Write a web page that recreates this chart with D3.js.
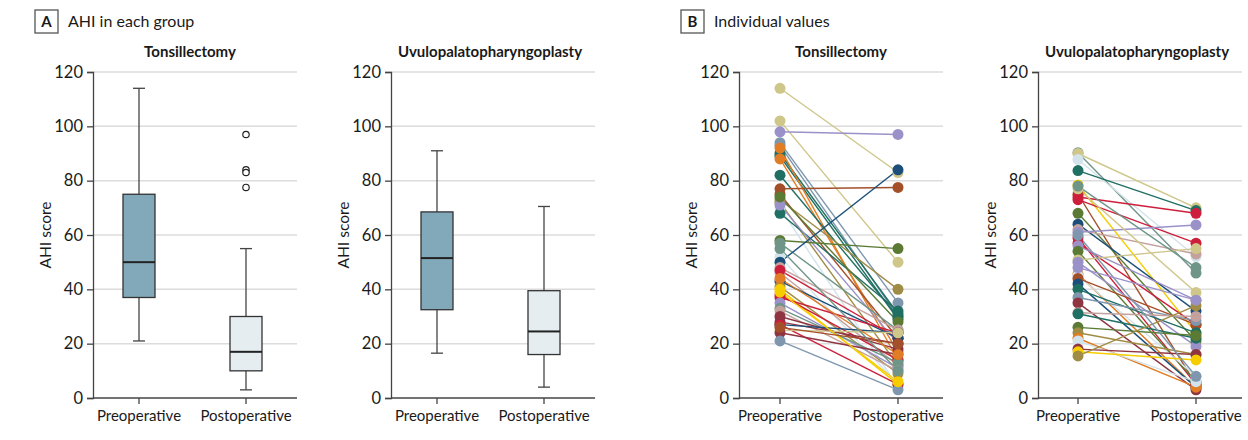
<!DOCTYPE html>
<html>
<head>
<meta charset="utf-8">
<script src="https://cdn.jsdelivr.net/npm/d3@7"></script>
<style>
  body { margin: 0; background: #fff; }
  svg text { font-family: Lato, "Open Sans", sans-serif; fill: #1a1a1a; }
</style>
</head>
<body>
<svg id="chart" width="1248" height="440"></svg>
<script>
// categories and ticks
var phases = ["Preoperative", "Postoperative"];
var yTicks = [0, 20, 40, 60, 80, 100, 120];

// box plot summaries: [min, q1, median, q3, max]
var tonsilPreBox = [21, 37, 50, 75, 114];
var tonsilPostBox = [3, 10, 17, 30, 55];
var tonsilPostOutliers = [97, 84, 83, 77.5];
var upppPreBox = [16.5, 32.5, 51.5, 68.5, 91];
var upppPostBox = [4, 16, 24.5, 39.5, 70.5];

// individual paired values
var tonsilPre  = [114, 102, 98, 94, 93, 90, 89, 88, 92, 82, 77, 75, 73, 72, 70, 68, 71, 74, 58, 57, 52, 50, 48, 46, 47, 43, 41, 40, 38, 37, 35, 33, 32, 30, 28, 27, 27, 25, 24, 21, 39, 44, 26, 55];
var tonsilPost = [83, 50, 97, 35, 30, 31, 29, 17, 14, 30, 77.5, 22, 40, 12, 4, 32, 20, 28, 55, 25, 5, 84, 25, 12, 22, 22, 9, 5, 14, 24, 11, 13, 10, 18, 20, 24, 5, 24, 16, 3, 6, 16, 20, 10];
var tonsilCol  = ["khaki", "khaki", "lavender", "slate", "slate", "teal", "teal", "orange", "orange", "teal", "rust", "rust", "olive", "olive", "lightblue", "teal", "lavender", "green", "green", "greygreen", "lightblue", "navy", "rose", "rose", "red", "navy", "olive", "yellow", "red", "red", "lavender", "greygreen", "rose", "maroon", "maroon", "navy", "red", "khaki", "maroon", "slate", "yellow", "orange", "rust", "greygreen"];

var upppPre  = [90.3, 90, 87.8, 83.7, 78.4, 75, 74, 73, 68, 64, 62, 61, 59, 57, 56, 54, 50.8, 50, 45.6, 45, 44, 42, 40, 37, 35, 31.4, 31, 26, 24, 22, 21, 18, 17, 15.5, 77, 78, 60, 48];
var upppPost = [46, 70, 52, 69, 24, 5, 68, 57, 21, 32, 53, 63.7, 5, 27, 36, 6, 55, 19, 4, 8, 27, 4, 24, 28.5, 3, 30, 22, 23, 16, 4, 6, 16, 14, 34, 38.8, 48, 8, 36];
var upppCol  = ["greygreen", "khaki", "lightblue", "teal", "yellow", "rust", "red", "red", "green", "navy", "rose", "lavender", "red", "red", "lavender", "green", "khaki", "lavender", "orange", "lightblue", "rust", "navy", "teal", "slate", "maroon", "rose", "teal", "green", "olive", "orange", "lightblue", "maroon", "yellow", "olive", "khaki", "greygreen", "slate", "lavender"];

var palette = {
  khaki: "#cfc68a", lavender: "#9b91c9", slate: "#7e97ae", teal: "#1f6f62",
  orange: "#e17d25", rust: "#a34f29", olive: "#a08c45", lightblue: "#d3e3eb",
  green: "#5b7b35", navy: "#1b4f79", rose: "#c4a19d", red: "#cd1f3b",
  greygreen: "#6f9589", maroon: "#8f3541", yellow: "#f7cd00"
};

var svg = d3.select("#chart");
var y = d3.scaleLinear().domain([0, 120]).range([398, 72]);

function panelFrame(axisX, preX, postX, rightX, title, titleX) {
  var x = d3.scalePoint().domain(phases).range([preX, postX]);
  var g = svg.append("g");

  // gridlines
  g.selectAll(".grid")
    .data(yTicks.filter(function(d) { return d > 0; }))
    .enter().append("line")
    .attr("x1", axisX).attr("x2", rightX)
    .attr("y1", function(d) { return y(d); })
    .attr("y2", function(d) { return y(d); })
    .attr("stroke", "#dcdcdc").attr("stroke-width", 1.5);

  // y axis
  var ya = g.append("g")
    .attr("transform", "translate(" + axisX + ",0)")
    .call(d3.axisLeft(y).tickValues(yTicks).tickSize(6).tickPadding(4));
  ya.select(".domain").attr("stroke", "#444").attr("stroke-width", 1.3);
  ya.selectAll(".tick line").attr("stroke", "#444").attr("stroke-width", 1.3);
  ya.selectAll("text").attr("font-size", 16.5).attr("fill", "#1a1a1a");

  // x axis
  var xa = g.append("g")
    .attr("transform", "translate(0," + y(0) + ")");
  xa.append("line")
    .attr("x1", axisX).attr("x2", rightX)
    .attr("stroke", "#444").attr("stroke-width", 1.3);
  xa.selectAll(".xt").data(phases).enter().append("line")
    .attr("x1", function(d) { return x(d); })
    .attr("x2", function(d) { return x(d); })
    .attr("y1", 0).attr("y2", 6)
    .attr("stroke", "#444").attr("stroke-width", 1.3);
  xa.selectAll(".xl").data(phases).enter().append("text")
    .attr("x", function(d) { return x(d); })
    .attr("y", 23)
    .attr("text-anchor", "middle")
    .attr("font-size", 15)
    .text(function(d) { return d; });

  // y label
  g.append("text")
    .attr("transform", "translate(" + (axisX - 42) + "," + ((y(0) + y(120)) / 2) + ")rotate(-90)")
    .attr("text-anchor", "middle")
    .attr("font-size", 15.5)
    .text("AHI score");

  // title
  g.append("text")
    .attr("x", titleX).attr("y", 57)
    .attr("text-anchor", "middle")
    .attr("font-size", 15)
    .attr("font-weight", "bold")
    .text(title);

  return { g: g, x: x };
}

function drawBox(p, phase, stats, fill, outliers) {
  var cx = p.x(phase), w = 32, cap = 12;
  var b = p.g.append("g");
  b.append("line")
    .attr("x1", cx).attr("x2", cx)
    .attr("y1", y(stats[0])).attr("y2", y(stats[4]))
    .attr("stroke", "#444").attr("stroke-width", 1.3);
  [stats[0], stats[4]].forEach(function(v) {
    b.append("line")
      .attr("x1", cx - cap / 2).attr("x2", cx + cap / 2)
      .attr("y1", y(v)).attr("y2", y(v))
      .attr("stroke", "#444").attr("stroke-width", 1.3);
  });
  b.append("rect")
    .attr("x", cx - w / 2).attr("width", w)
    .attr("y", y(stats[3])).attr("height", y(stats[1]) - y(stats[3]))
    .attr("fill", fill).attr("stroke", "#333").attr("stroke-width", 1.3);
  b.append("line")
    .attr("x1", cx - w / 2).attr("x2", cx + w / 2)
    .attr("y1", y(stats[2])).attr("y2", y(stats[2]))
    .attr("stroke", "#222").attr("stroke-width", 2);
  if (outliers) {
    b.selectAll(".out").data(outliers).enter().append("circle")
      .attr("cx", cx).attr("cy", function(d) { return y(d); })
      .attr("r", 3.2)
      .attr("fill", "#fff").attr("stroke", "#222").attr("stroke-width", 1.2);
  }
}

function drawPairs(p, pre, post, cols) {
  var idx = d3.range(pre.length);
  p.g.selectAll(".pair").data(idx).enter().append("line")
    .attr("x1", p.x("Preoperative")).attr("x2", p.x("Postoperative"))
    .attr("y1", function(i) { return y(pre[i]); })
    .attr("y2", function(i) { return y(post[i]); })
    .attr("stroke", function(i) { return palette[cols[i]]; })
    .attr("stroke-width", 1.4);
  p.g.selectAll(".ptA").data(idx).enter().append("circle")
    .attr("cx", p.x("Preoperative"))
    .attr("cy", function(i) { return y(pre[i]); })
    .attr("r", 5.5)
    .attr("fill", function(i) { return palette[cols[i]]; });
  p.g.selectAll(".ptB").data(idx).enter().append("circle")
    .attr("cx", p.x("Postoperative"))
    .attr("cy", function(i) { return y(post[i]); })
    .attr("r", 5.5)
    .attr("fill", function(i) { return palette[cols[i]]; });
}

function panelLabel(boxX, letter, text) {
  svg.append("rect")
    .attr("x", boxX).attr("y", 10).attr("width", 23).attr("height", 23)
    .attr("fill", "#fff").attr("stroke", "#555").attr("stroke-width", 1.3);
  svg.append("text")
    .attr("x", boxX + 11.5).attr("y", 27)
    .attr("text-anchor", "middle")
    .attr("font-size", 15).attr("font-weight", "bold")
    .text(letter);
  svg.append("text")
    .attr("x", boxX + 33).attr("y", 27)
    .attr("font-size", 16)
    .text(text);
}

panelLabel(35, "A", "AHI in each group");
panelLabel(681, "B", "Individual values");

var a1 = panelFrame(93, 139, 246, 297, "Tonsillectomy", 190);
drawBox(a1, "Preoperative", tonsilPreBox, "#82a9b9");
drawBox(a1, "Postoperative", tonsilPostBox, "#e5edf1", tonsilPostOutliers);

var a2 = panelFrame(391, 437, 544, 595, "Uvulopalatopharyngoplasty", 490);
drawBox(a2, "Preoperative", upppPreBox, "#82a9b9");
drawBox(a2, "Postoperative", upppPostBox, "#e5edf1");

var b1 = panelFrame(739, 780, 898, 943, "Tonsillectomy", 841);
drawPairs(b1, tonsilPre, tonsilPost, tonsilCol);

var b2 = panelFrame(1038, 1078, 1196, 1242, "Uvulopalatopharyngoplasty", 1137);
drawPairs(b2, upppPre, upppPost, upppCol);
</script>
</body>
</html>
